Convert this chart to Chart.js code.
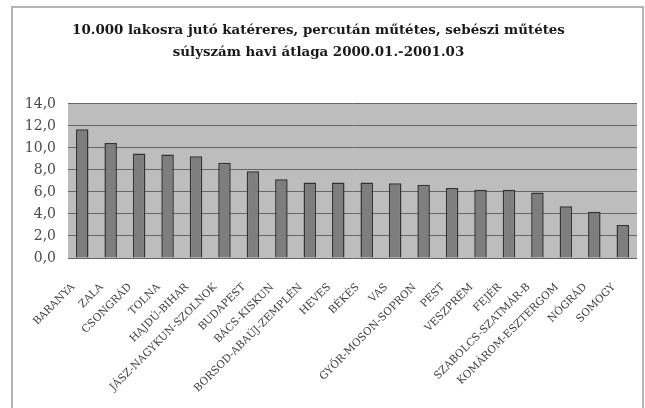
<!DOCTYPE html>
<html>
<head>
<meta charset="utf-8">
<script src="https://cdn.jsdelivr.net/npm/chart.js@4"></script>
<style>
  html, body { margin: 0; padding: 0; background: #ffffff; }
  #wrap { position: relative; width: 645px; height: 408px; }
</style>
</head>
<body>
<div id="wrap"><canvas id="c" width="645" height="408"></canvas></div>
<script>
const categories = ['BARANYA','ZALA','CSONGRÁD','TOLNA','HAJDÚ-BIHAR','JÁSZ-NAGYKUN-SZOLNOK','BUDAPEST','BÁCS-KISKUN','BORSOD-ABAÚJ-ZEMPLÉN','HEVES','BÉKÉS','VAS','GYŐR-MOSON-SOPRON','PEST','VESZPRÉM','FEJÉR','SZABOLCS-SZATMÁR-B','KOMÁROM-ESZTERGOM','NÓGRÁD','SOMOGY'];
const values = [11.7, 10.45, 9.5, 9.4, 9.25, 8.65, 7.87, 7.15, 6.85, 6.85, 6.85, 6.8, 6.65, 6.35, 6.2, 6.2, 5.95, 4.7, 4.2, 3.0];
const yTicks = [0, 2, 4, 6, 8, 10, 12, 14];
const titleLines = ['10.000 lakosra jutó katéreres, percután műtétes, sebészi műtétes', 'súlyszám havi átlaga 2000.01.-2001.03'];

const frameAndBg = {
  id: 'frameAndBg',
  beforeDraw(chart) {
    const ctx = chart.ctx, a = chart.chartArea;
    ctx.save();
    ctx.fillStyle = '#ffffff';
    ctx.fillRect(0, 0, chart.width, chart.height);
    ctx.strokeStyle = '#b4b4b4';
    ctx.lineWidth = 2;
    ctx.strokeRect(12, 7, 631, 420);
    ctx.fillStyle = '#bdbdbd';
    ctx.fillRect(a.left, a.top, a.right - a.left, a.bottom - a.top);
    ctx.restore();
  }
};

new Chart(document.getElementById('c'), {
  type: 'bar',
  data: {
    labels: categories,
    datasets: [{
      data: values,
      backgroundColor: '#7e7e7e',
      borderColor: '#333333',
      borderWidth: 1.5,
      categoryPercentage: 1,
      barPercentage: 0.44
    }]
  },
  options: {
    responsive: false,
    animation: false,
    layout: { padding: { left: 0, right: 8, top: 0, bottom: 0 } },
    plugins: {
      legend: { display: false },
      tooltip: { enabled: false },
      title: {
        display: true,
        text: titleLines,
        color: '#1a1a1a',
        font: { family: 'DejaVu Serif', size: 13.4, weight: 'bold', lineHeight: 1.6 },
        padding: { top: 20, bottom: 41 }
      }
    },
    scales: {
      x: {
        grid: { display: false, drawTicks: false },
        border: { display: false },
        ticks: {
          autoSkip: false,
          maxRotation: 45,
          minRotation: 45,
          color: '#404040',
          padding: 23,
          labelOffset: -9,
          font: { family: 'DejaVu Serif', size: 10.5 }
        },
        afterFit(s) { s.height = 150; s.paddingLeft = 0; s.paddingRight = 0; }
      },
      y: {
        min: 0,
        max: 14,
        afterBuildTicks(s) { s.ticks = yTicks.map(v => ({ value: v })); },
        grid: { color: '#666666', lineWidth: 1, drawTicks: false },
        border: { display: false },
        ticks: {
          color: '#4a4a4a',
          padding: 12,
          font: { family: 'DejaVu Serif', size: 14 },
          callback: v => v.toFixed(1).replace('.', ',')
        },
        afterFit(s) { s.width = 68; }
      }
    }
  },
  plugins: [frameAndBg]
});
</script>
</body>
</html>
